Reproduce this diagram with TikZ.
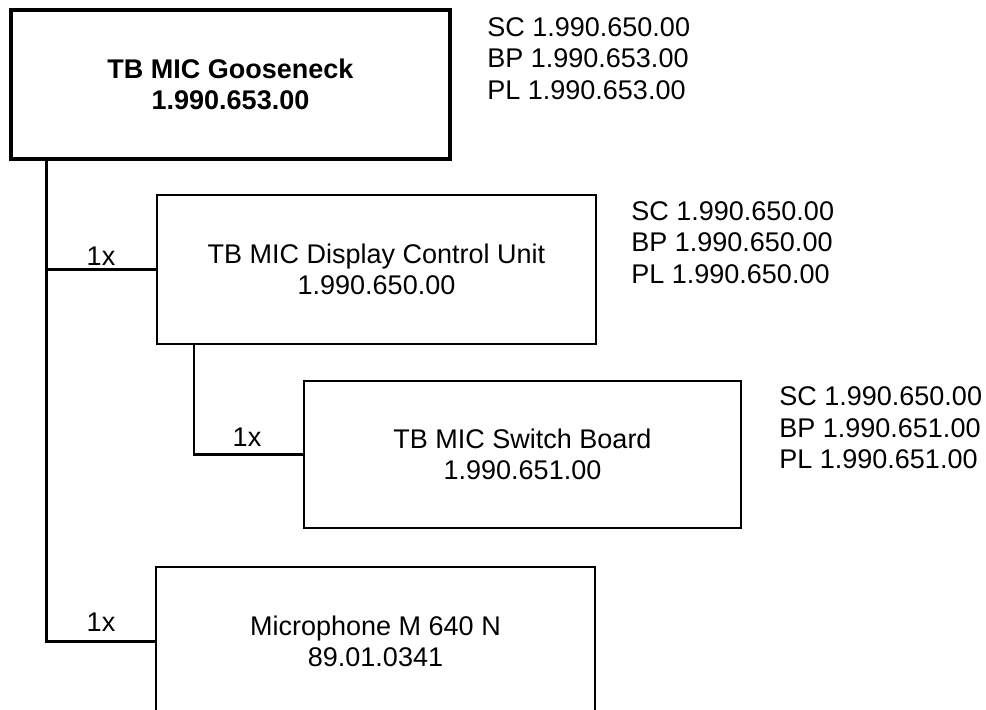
\documentclass[tikz,border=0pt]{standalone}
\usepackage{fontspec}
\setmainfont{Liberation Sans}
\begin{document}
\begin{tikzpicture}[x=0.5pt,y=-0.5pt,
  txt/.style={font=\fontsize{13.5}{15.5}\selectfont, align=center},
  boxa/.style={draw, line width=2pt, minimum width=219.5pt, minimum height=74.5pt, inner sep=0pt, txt, font=\fontsize{13.5}{15.5}\selectfont\bfseries},
  boxb/.style={draw, line width=1.3pt, minimum width=219.5pt, minimum height=74.5pt, inner sep=0pt, txt},
  boxc/.style={draw, line width=0.9pt, minimum width=218.5pt, minimum height=73.5pt, inner sep=0pt, txt},
  side/.style={anchor=west, align=left, inner sep=0pt, font=\fontsize{13.5}{15.8}\selectfont},
  qty/.style={inner sep=0pt, font=\fontsize{13.5}{15.5}\selectfont},
  conn/.style={line width=1.5pt},
  subconn/.style={line width=1.1pt}]
\useasboundingbox (0,0) rectangle (986,710);
\clip (0,0) rectangle (986,710);
\fill[white] (0,0) rectangle (986,710);

\node[boxa] (A) at (230.5,84.5) {\raisebox{-1.5pt}{TB MIC Gooseneck}\\\raisebox{-1.5pt}{1.990.653.00}};
\node[boxb] (B) at (376.5,269.5) {TB MIC Display Control Unit\\1.990.650.00};
\node[boxc] (C) at (522.5,454.5) {TB MIC Switch Board\\1.990.651.00};
\node[boxb] (D) at (375.5,641.5) {Microphone M 640 N\\89.01.0341};

\node[side] (sa) at (487,58.5) {SC 1.990.650.00\\BP 1.990.653.00\\PL 1.990.653.00};
\node[side] (sb) at (631,242.5) {SC 1.990.650.00\\BP 1.990.650.00\\PL 1.990.650.00};
\node[side] (sc) at (779,428) {SC 1.990.650.00\\BP 1.990.651.00\\PL 1.990.651.00};

\coordinate (trunktop) at ([xshift=18.5pt]A.south west);
\coordinate (subtop) at ([xshift=19pt]B.south west);
\draw[conn] (trunktop) |- (D.west);
\draw[conn] (trunktop |- B.west) -- (B.west);
\draw[subconn] (subtop) |- (C.west);

\node[qty] (q1) at (101,256) {1x};
\node[qty] (q2) at (247,437) {1x};
\node[qty] (q3) at (101,622) {1x};
\end{tikzpicture}
\end{document}
